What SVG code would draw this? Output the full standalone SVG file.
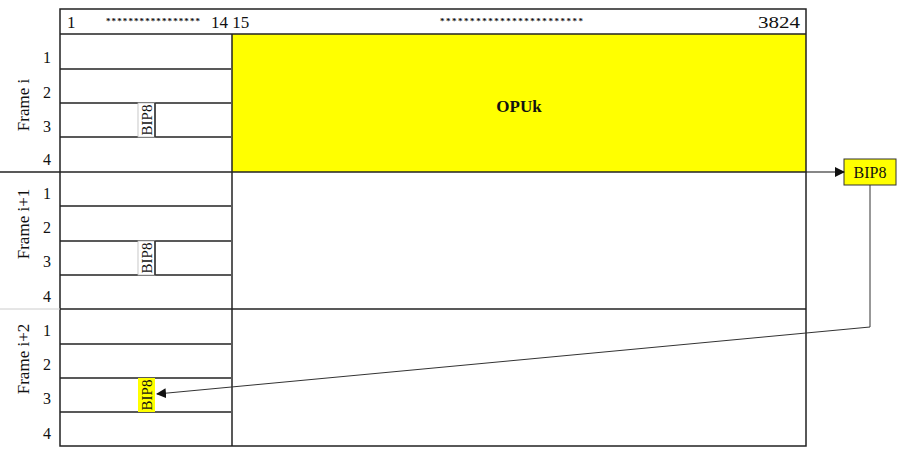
<svg xmlns="http://www.w3.org/2000/svg" width="907" height="451" viewBox="0 0 907 451">
<style>
.t{font-family:"Liberation Serif","Times New Roman",serif;font-size:16px;fill:#111}
.h{font-family:"Liberation Serif","Times New Roman",serif;font-size:17px;fill:#111}
.ln{stroke:#222;stroke-width:1.5;fill:none}
.dots{font-family:"Liberation Serif",serif;font-size:9px;fill:#111;font-weight:bold}
.bip{font-family:"Liberation Serif",serif;font-size:15px;fill:#111}
</style>
<defs>
<marker id="ah" markerWidth="10" markerHeight="10" refX="9" refY="5" orient="auto" markerUnits="userSpaceOnUse">
<path d="M0,0 L10,5 L0,10 z" fill="#111"/>
</marker>
</defs>
<rect x="0" y="0" width="907" height="451" fill="#fff"/>
<g id="opuk">
<rect x="232" y="34" width="574" height="138" fill="#ffff00"/>
<text x="519" y="112" text-anchor="middle" class="t" style="font-weight:bold;font-size:17px">OPUk</text>
</g>
<g id="grid">
<rect x="60" y="9" width="746" height="437" class="ln"/>
<line x1="60" y1="34" x2="806" y2="34" class="ln"/>
<line x1="232" y1="34" x2="232" y2="446" class="ln"/>
<line x1="0" y1="172" x2="806" y2="172" class="ln"/>
<line x1="232" y1="309" x2="806" y2="309" class="ln"/>
<line x1="60" y1="309" x2="232" y2="309" class="ln"/>
<line x1="0" y1="309" x2="60" y2="309" stroke="#ccc" stroke-width="1"/>
<g class="ln">
<line x1="60" y1="69" x2="231" y2="69"/>
<line x1="60" y1="103" x2="231" y2="103"/>
<line x1="60" y1="137" x2="231" y2="137"/>
<line x1="60" y1="206" x2="231" y2="206"/>
<line x1="60" y1="241" x2="231" y2="241"/>
<line x1="60" y1="275" x2="231" y2="275"/>
<line x1="60" y1="344" x2="231" y2="344"/>
<line x1="60" y1="378" x2="231" y2="378"/>
<line x1="60" y1="412" x2="231" y2="412"/>
</g>
</g>
<g id="header">
<text x="67" y="28" class="h">1</text>
<text x="106" y="24" class="dots" textLength="94" lengthAdjust="spacing">*****************</text>
<text x="211" y="28" class="h">14 15</text>
<text x="440" y="24" class="dots" textLength="143" lengthAdjust="spacing">************************</text>
<text x="758" y="28" class="h" textLength="42" lengthAdjust="spacingAndGlyphs">3824</text>
</g>
<g id="rowlabels" class="t" text-anchor="middle">
<text x="47" y="63">1</text><text x="47" y="98">2</text><text x="47" y="132">3</text><text x="47" y="165">4</text>
<text x="47" y="199">1</text><text x="47" y="233">2</text><text x="47" y="267">3</text><text x="47" y="302">4</text>
<text x="47" y="336">1</text><text x="47" y="370">2</text><text x="47" y="404">3</text><text x="47" y="439">4</text>
</g>
<g id="framelabels" class="t" text-anchor="middle" style="font-size:17px">
<text transform="translate(29,105) rotate(-90)">Frame i</text>
<text transform="translate(29,224) rotate(-90)">Frame i+1</text>
<text transform="translate(29,359) rotate(-90)">Frame i+2</text>
</g>
<g id="bip8-i">
<rect x="138" y="103" width="17" height="34" fill="#fff" stroke="#bbb" stroke-width="0.8"/>
<line x1="155" y1="103" x2="155" y2="137" class="ln"/>
<text transform="translate(152,120) rotate(-90)" class="bip" text-anchor="middle">BIP8</text>
</g>
<g id="bip8-i1">
<rect x="138" y="241" width="17" height="34" fill="#fff" stroke="#bbb" stroke-width="0.8"/>
<line x1="155" y1="241" x2="155" y2="275" class="ln"/>
<text transform="translate(152,258) rotate(-90)" class="bip" text-anchor="middle">BIP8</text>
</g>
<g id="bip8-i2">
<rect x="138" y="378" width="17" height="34" fill="#ffff00"/>
<text transform="translate(152,395) rotate(-90)" class="bip" text-anchor="middle">BIP8</text>
</g>
<g id="bip8-out">
<rect x="844" y="159" width="52" height="26" fill="#ffff00" stroke="#333" stroke-width="1"/>
<text x="870" y="178" class="t" text-anchor="middle">BIP8</text>
</g>
<g id="connectors">
<line x1="806" y1="172" x2="844" y2="172" stroke="#111" stroke-width="1.2" marker-end="url(#ah)"/>
<polyline points="870,185 870,327 157,394" fill="none" stroke="#333" stroke-width="1" marker-end="url(#ah)"/>
</g>
</svg>
